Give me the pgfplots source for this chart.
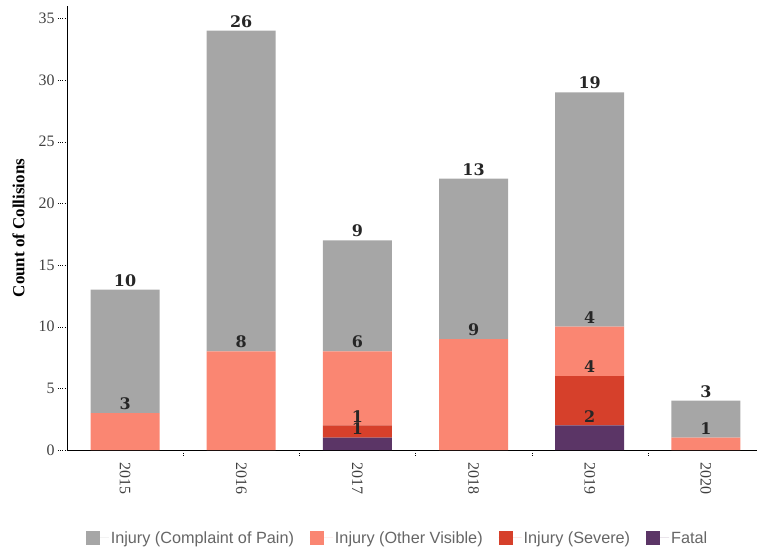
\documentclass[border=0pt]{standalone}
\usepackage{fontspec}
\setmainfont{Liberation Serif}
\newfontfamily\legfont{Liberation Sans}
\newfontfamily\valfont{DejaVu Serif}
\usepackage{pgfplots}
\pgfplotsset{compat=1.18}

\definecolor{cPain}{HTML}{A6A6A6}
\definecolor{cOther}{HTML}{FA8672}
\definecolor{cSevere}{HTML}{D6402B}
\definecolor{cFatal}{HTML}{5B3566}

\begin{document}
\begin{tikzpicture}
\path[use as bounding box] (-67bp,-104bp) rectangle (694bp,450bp);
\begin{axis}[
  width=690bp, height=444bp, scale only axis,
  xmin=-0.5, xmax=5.44, ymin=0, ymax=36,
  ybar stacked, bar width=69bp,
  axis lines*=left,
  axis line style={black, line width=1pt},
  xtick={0,...,5},
  xticklabels={2015,2016,2017,2018,2019,2020},
  minor xtick={0.5,1.5,2.5,3.5,4.5},
  ytick={0,5,...,35},
  tick align=outside,
  major tick length=9bp, minor tick length=5bp,
  major x tick style={draw=none},
  minor x tick style={black, dotted},
  major y tick style={black, dotted},
  /pgf/number format/assume math mode=true,
  tick label style={font=\fontsize{16}{18}\selectfont, text=black!75},
  xticklabel style={rotate=-90, anchor=west},
  ylabel={\textbf{Count of Collisions}},
  ylabel style={at={(axis description cs:-0.0703,0.5)}, anchor=center,
    font=\fontsize{17}{19}\selectfont},
  % labels sit just above the top of each segment
  visualization depends on={rawy \as \rawy},
  nodes near coords={\pgfmathfloatifflags{\pgfplotspointmeta}{0}{}{\pgfmathprintnumber{\pgfplotspointmeta}}},
  every node near coord/.append style={font=\valfont\bfseries\fontsize{16}{18}\selectfont,
    text=black!85, anchor=south, inner sep=2bp, yshift={6.1667bp*\rawy+1bp}},
  legend columns=4, reverse legend,
  legend style={at={(0.479,-0.198)}, anchor=center, draw=none,
    font=\legfont\fontsize{16.3}{18}\selectfont, text=black!60,
    /tikz/every even column/.append style={column sep=14bp}},
  legend image code/.code={\path (0bp,0bp) -- (23bp,0bp);
    \fill[#1,draw=none] (0bp,-7bp) rectangle (14bp,7bp);},
]
\addplot[fill=cFatal, draw=none] coordinates {(0,0) (1,0) (2,1) (3,0) (4,2) (5,0)};
\addlegendentry{Fatal}
\addplot[fill=cSevere, draw=none] coordinates {(0,0) (1,0) (2,1) (3,0) (4,4) (5,0)};
\addlegendentry{Injury (Severe)}
\addplot[fill=cOther, draw=none] coordinates {(0,3) (1,8) (2,6) (3,9) (4,4) (5,1)};
\addlegendentry{Injury (Other Visible)}
\addplot[fill=cPain, draw=none] coordinates {(0,10) (1,26) (2,9) (3,13) (4,19) (5,3)};
\addlegendentry{Injury (Complaint of Pain)}
\end{axis}
\end{tikzpicture}
\end{document}
